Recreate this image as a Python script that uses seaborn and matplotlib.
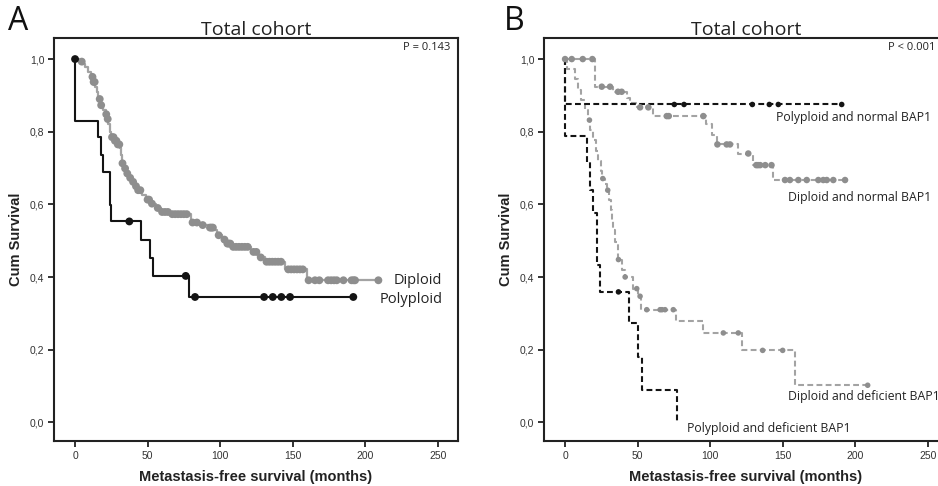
import numpy as np
import pandas as pd
import matplotlib
matplotlib.use("Agg")
import matplotlib.pyplot as plt
import seaborn as sns

# ---- panel A: total cohort, ploidy ----
# step points (time in months, cum survival after the step)
dip_time = [0, 3, 5, 7, 9, 11, 12.5, 14, 15, 16, 17.5, 19, 21, 22, 23, 24, 25, 27, 29, 31,
            32, 32.5, 34, 35, 37, 39, 41, 43, 46, 49, 52, 56, 59, 66, 80, 86, 92, 96, 98, 101,
            104, 108, 121, 126, 131, 145, 160]
dip_surv = [1.0, 0.993, 0.986, 0.979, 0.965, 0.951, 0.937, 0.924, 0.91, 0.89, 0.873, 0.86, 0.848,
            0.835, 0.82, 0.80, 0.785, 0.775, 0.765, 0.754, 0.735, 0.713, 0.699, 0.685, 0.673, 0.662,
            0.650, 0.639, 0.626, 0.613, 0.602, 0.590, 0.579, 0.573, 0.550, 0.543, 0.536, 0.529,
            0.515, 0.503, 0.492, 0.483, 0.469, 0.454, 0.442, 0.421, 0.391]
dip_end = 209.1
dip_cens = [4.6, 12, 12.8, 13.5, 17, 18, 21.5, 22.5, 25.5, 26.5, 27.5, 28.5, 29.5, 30.5, 32.7, 34.5,
            36, 38, 40, 42, 43.5, 45, 50, 51, 53, 57, 60, 62, 64, 67, 69, 71, 73, 75, 77, 81, 84,
            88, 93, 94, 95, 99, 103, 105, 106, 107, 109, 111, 113, 115, 117, 119, 123, 125, 128,
            132, 134, 136, 138, 140, 142, 147, 149, 151, 153, 155, 157, 161, 165.4, 168.4, 174.4,
            176.5, 178.5, 180.4, 185, 190.6, 192, 193, 209.1]

poly_time = [0, 0, 15.6, 17.7, 19.5, 24, 25, 45.5, 51.7, 54, 78.8]
poly_surv = [1.0, 0.829, 0.785, 0.735, 0.69, 0.598, 0.553, 0.503, 0.453, 0.403, 0.345]
poly_end = 191.8
poly_cens = [0, 37.4, 76.3, 82.7, 130.3, 136.3, 142.2, 148.2, 191.8]

# ---- panel B: total cohort, ploidy x BAP1 ----
pn_time = [0, 0]
pn_surv = [1.0, 0.875]
pn_end = 190.7
pn_cens = [75.3, 82, 129.1, 140.8, 147, 190.7]

dn_time = [0, 20.7, 33, 42.5, 44.8, 49.4, 60.9, 97.2, 101, 104.4, 119.4, 129.4, 143.4]
dn_surv = [1.0, 0.924, 0.910, 0.892, 0.878, 0.867, 0.843, 0.820, 0.790, 0.765, 0.740, 0.708, 0.667]
dn_end = 193
dn_cens = [0, 4.6, 12.2, 18.8, 25.3, 31, 36.5, 39, 51.7, 57.4, 70.1, 71.5, 95.3, 105, 111.4, 113.7,
           126.3, 131.8, 133, 134.5, 138, 142.3, 151.6, 155, 160.8, 166.6, 174.6, 178, 180.4,
           184.9, 193]

dd_time = [0, 1, 7, 9, 11, 13.5, 15.5, 17.5, 19.5, 21, 22.5, 24.5, 25.5, 27.5, 29, 30.5, 31.5,
           32.5, 33.3, 34.5, 36.5, 39.5, 41, 47.1, 50.5, 52.5, 76.5, 95.3, 121.8, 158.5]
dd_surv = [1.0, 0.972, 0.944, 0.916, 0.888, 0.86, 0.832, 0.804, 0.776, 0.748, 0.72, 0.692, 0.671,
           0.655, 0.639, 0.613, 0.585, 0.557, 0.529, 0.497, 0.448, 0.42, 0.40, 0.368, 0.347,
           0.310, 0.278, 0.246, 0.198, 0.102]
dd_end = 208.6
dd_cens = [16.8, 26, 29.4, 36.8, 41.4, 49.4, 51.7, 56.3, 65.5, 66.8, 68.9, 74.6, 109.1, 119.4,
           136.2, 150, 208.6]

pd_time = [0, 0, 14.9, 17.5, 19.5, 22, 24.1, 44.3, 50.1, 52.9, 77.4]
pd_surv = [1.0, 0.788, 0.717, 0.639, 0.575, 0.432, 0.359, 0.272, 0.18, 0.09, 0.0]
pd_end = 77.4
pd_cens = [36.8]

x_ticks = [0, 50, 100, 150, 200, 250]
y_ticks = [0.0, 0.2, 0.4, 0.6, 0.8, 1.0]
y_ticklabels = ["0,0", "0,2", "0,4", "0,6", "0,8", "1,0"]

GRAY_LINE = "#a3a3a3"
GRAY_DOT = "#8e8e8e"
BLACK = "#141414"

sns.set_style("white")
plt.rcParams["font.family"] = ["Liberation Sans", "DejaVu Sans"]
LABEL_FONT = ["Open Sans", "DejaVu Sans"]


def step_frame(times, survs, end):
    t = list(times) + [end]
    s = list(survs) + [survs[-1]]
    return pd.DataFrame({"t": t, "s": s})


def cens_frame(times, survs, cens):
    times = np.asarray(times)
    idx = np.searchsorted(times, cens, side="left") - 1
    idx = np.clip(idx, 0, None)
    return pd.DataFrame({"t": cens, "s": np.asarray(survs)[idx]})


def draw_curve(ax, times, survs, end, cens, color, dot_color, lw, dots, ls="-"):
    sns.lineplot(data=step_frame(times, survs, end), x="t", y="s", ax=ax, color=color,
                 linewidth=lw, estimator=None, sort=False, drawstyle="steps-post",
                 linestyle=ls)
    sns.scatterplot(data=cens_frame(times, survs, cens), x="t", y="s", ax=ax,
                    color=dot_color, s=dots, edgecolor="none", zorder=3)


def style_axes(ax, p_text, p_x):
    ax.set_xlim(-14.5, 264)
    ax.set_ylim(-0.0515, 1.058)
    ax.set_xticks(x_ticks)
    ax.set_yticks(y_ticks)
    ax.set_yticklabels(y_ticklabels)
    ax.tick_params(axis="both", direction="out", length=4, width=1.3, labelsize=7.5,
                   color="#222222", labelcolor="#333333", left=True, bottom=True, pad=3)
    for sp in ax.spines.values():
        sp.set_visible(True)
        sp.set_linewidth(1.5)
        sp.set_color("#222222")
    ax.set_xlabel("Metastasis-free survival (months)", fontsize=10.5, fontweight="bold",
                  color="#222222", labelpad=7)
    ax.set_ylabel("Cum Survival", fontsize=10.5, fontweight="bold", color="#222222",
                  labelpad=5)
    ax.set_title("Total cohort", fontsize=14, family=LABEL_FONT, color="#222222", pad=2)
    ax.text(p_x, 1.033, p_text, ha="right", va="center", fontsize=8, family=LABEL_FONT,
            color="#222222")


fig = plt.figure(figsize=(9.38, 4.86), dpi=100)
axA = fig.add_axes([0.0576, 0.0926, 0.4307, 0.8292])
axB = fig.add_axes([0.58, 0.0926, 0.4307, 0.8292])

# panel A
draw_curve(axA, dip_time, dip_surv, dip_end, dip_cens, GRAY_LINE, GRAY_DOT, 1.6, 32)
draw_curve(axA, poly_time, poly_surv, poly_end, poly_cens, BLACK, BLACK, 1.5, 32)
style_axes(axA, "P = 0.143", 258.5)
axA.text(253, 0.391, "Diploid", ha="right", va="center", fontsize=10.5, family=LABEL_FONT,
         color="#222222")
axA.text(253.5, 0.339, "Polyploid", ha="right", va="center", fontsize=10.5, family=LABEL_FONT,
         color="#222222")

# panel B
dash = (0, (2.8, 1.6))
draw_curve(axB, dd_time, dd_surv, dd_end, dd_cens, GRAY_LINE, GRAY_DOT, 1.5, 16, ls=dash)
draw_curve(axB, dn_time, dn_surv, dn_end, dn_cens, GRAY_LINE, GRAY_DOT, 1.5, 22, ls=dash)
draw_curve(axB, pd_time, pd_surv, pd_end, pd_cens, BLACK, BLACK, 1.5, 16, ls=dash)
draw_curve(axB, pn_time, pn_surv, pn_end, pn_cens, BLACK, BLACK, 1.5, 16, ls=dash)
style_axes(axB, "P < 0.001", 255.3)
for tx, ty, lab in [(145.4, 0.840, "Polyploid and normal BAP1"),
                    (153.7, 0.620, "Diploid and normal BAP1"),
                    (153.5, 0.070, "Diploid and deficient BAP1"),
                    (83.9, -0.017, "Polyploid and deficient BAP1")]:
    axB.text(tx, ty, lab, ha="left", va="center", fontsize=8.8, family=LABEL_FONT,
             color="#222222")

fig.text(0.009, 0.955, "A", fontsize=23, family=LABEL_FONT, color="#111111", va="center")
fig.text(0.537, 0.955, "B", fontsize=23, family=LABEL_FONT, color="#111111", va="center")

fig.savefig("out.png", dpi=100)
